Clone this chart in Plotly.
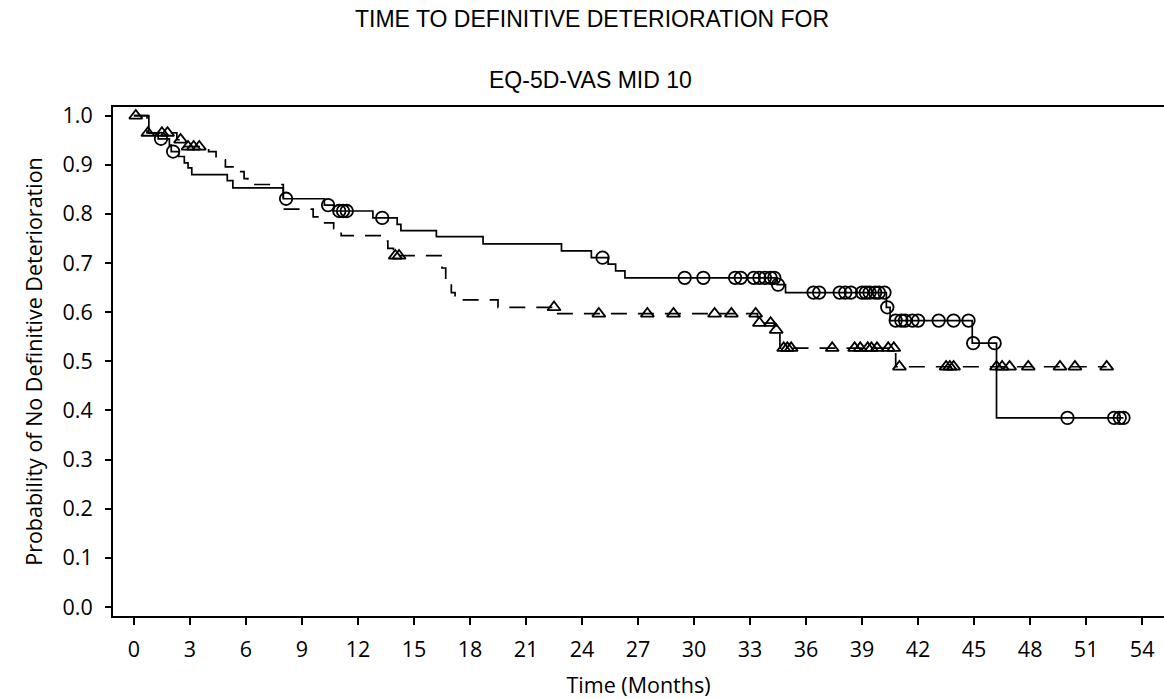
import numpy as np
import plotly.graph_objects as go

# ---- Data (Kaplan-Meier style step curves) ----
# Solid curve (censored obs shown as open circles)
time_a = [0, 0.8, 1.3, 1.9, 2.0, 2.4, 2.7, 2.9, 3.1, 5.0, 5.3, 8.0, 10.2, 10.7, 12.8,
          14.1, 14.3, 16.2, 18.7, 22.9, 24.5, 25.4, 25.8, 26.3, 34.45, 34.9, 40.3,
          40.5, 44.9, 46.2, 53.0]
surv_a = [1.0, 0.965, 0.953, 0.94, 0.927, 0.917, 0.904, 0.894, 0.88, 0.868, 0.853, 0.831,
          0.818, 0.806, 0.792, 0.779, 0.766, 0.754, 0.739, 0.725, 0.711, 0.698, 0.684,
          0.670, 0.656, 0.640, 0.610, 0.583, 0.537, 0.385, 0.385]
cens_time_a = [1.45, 2.1, 8.15, 10.4, 11.0, 11.2, 11.4, 13.3, 25.1, 29.5, 30.5, 32.2, 32.5,
               33.2, 33.5, 33.8, 34.1, 34.3, 34.5, 36.4, 36.7, 37.8, 38.1, 38.4, 39.0,
               39.2, 39.4, 39.7, 39.9, 40.2, 40.35, 40.8, 41.1, 41.3, 41.7, 42.0, 43.1,
               43.9, 44.7, 44.95, 46.1, 50.0, 52.5, 52.8, 53.0]

# Dashed curve (censored obs shown as open triangles)
time_b = [0, 0.7, 2.3, 2.6, 4.0, 4.4, 4.9, 5.5, 5.9, 6.1, 8.0, 9.6, 10.0, 10.7, 11.1,
          13.3, 13.6, 13.9, 16.5, 16.7, 17.0, 17.2, 19.5, 22.7, 33.4, 34.3, 34.6, 40.8, 52.1]
surv_b = [1.0, 0.965, 0.951, 0.937, 0.927, 0.91, 0.896, 0.886, 0.872, 0.86, 0.81, 0.794,
          0.782, 0.77, 0.756, 0.745, 0.73, 0.715, 0.69, 0.666, 0.64, 0.625, 0.61, 0.597,
          0.578, 0.564, 0.527, 0.489, 0.489]
cens_time_b = [0.1, 0.75, 1.5, 1.8, 2.5, 2.9, 3.2, 3.5, 14.0, 14.2, 22.5, 24.9, 27.5, 28.9,
               31.1, 32.0, 33.3, 33.5, 34.1, 34.4, 34.8, 35.0, 35.2, 37.4, 38.6, 38.9,
               39.3, 39.5, 39.8, 40.4, 40.7, 41.0, 43.5, 43.7, 43.9, 46.2, 46.5, 46.9,
               47.9, 49.6, 50.4, 52.1]

x_ticks = list(range(0, 55, 3))
y_ticks = [0.0, 0.1, 0.2, 0.3, 0.4, 0.5, 0.6, 0.7, 0.8, 0.9, 1.0]
y_tick_text = [f"{v:.1f}" for v in y_ticks]

title_line1 = "TIME TO DEFINITIVE DETERIORATION FOR"
title_line2 = "EQ-5D-VAS MID 10"
x_title = "Time (Months)"
y_title = "Probability of No Definitive Deterioration"


def surv_at(times, survs, t_list):
    times = np.asarray(times)
    survs = np.asarray(survs)
    idx = np.searchsorted(times, np.asarray(t_list), side="right") - 1
    return survs[idx]


fig = go.Figure()
fig.add_trace(go.Scatter(x=time_a, y=surv_a, mode="lines",
                         line=dict(shape="hv", color="black", width=1.7),
                         hoverinfo="skip"))
fig.add_trace(go.Scatter(x=time_b, y=surv_b, mode="lines",
                         line=dict(shape="hv", color="black", width=1.7, dash="16px,11px"),
                         hoverinfo="skip"))
fig.add_trace(go.Scatter(x=cens_time_a, y=surv_at(time_a, surv_a, cens_time_a),
                         mode="markers",
                         marker=dict(symbol="circle-open", size=12.5, color="black",
                                     line=dict(width=1.8, color="black"))))
fig.add_trace(go.Scatter(x=cens_time_b, y=surv_at(time_b, surv_b, cens_time_b),
                         mode="markers",
                         marker=dict(symbol="triangle-up-open", size=11.5, color="black",
                                     line=dict(width=1.8, color="black"))))

axis_font = dict(family="Open Sans", size=21.5, color="black")
title_font = dict(family="Liberation Sans", size=23, color="black")

fig.update_layout(
    width=1164, height=699,
    margin=dict(l=113, r=0, t=107, b=83),
    plot_bgcolor="white", paper_bgcolor="white",
    showlegend=False,
    xaxis=dict(range=[-1.12, 55.17], tickvals=x_ticks, ticks="outside", ticklen=7,
               tickwidth=1.6, tickcolor="black", showline=True, linewidth=2,
               linecolor="black", mirror=True, showgrid=False, zeroline=False,
               tickfont=axis_font, ticklabelstandoff=6,
               title=dict(text=x_title, font=axis_font, standoff=16)),
    yaxis=dict(range=[-0.0183, 1.0177], tickvals=y_ticks, ticktext=y_tick_text,
               ticks="outside", ticklen=6, tickwidth=1.6, tickcolor="black",
               showline=True, linewidth=2, linecolor="black", showgrid=False,
               zeroline=False, tickfont=axis_font, ticklabelstandoff=8,
               title=dict(text=y_title, font=axis_font, standoff=14)),
    annotations=[
        dict(text=title_line1, xref="paper", yref="paper", x=0.456, y=1.172,
             xanchor="center", yanchor="middle", showarrow=False, font=title_font),
        dict(text=title_line2, xref="paper", yref="paper", x=0.454, y=1.053,
             xanchor="center", yanchor="middle", showarrow=False, font=title_font),
    ],
)

fig.write_html("out.html")
